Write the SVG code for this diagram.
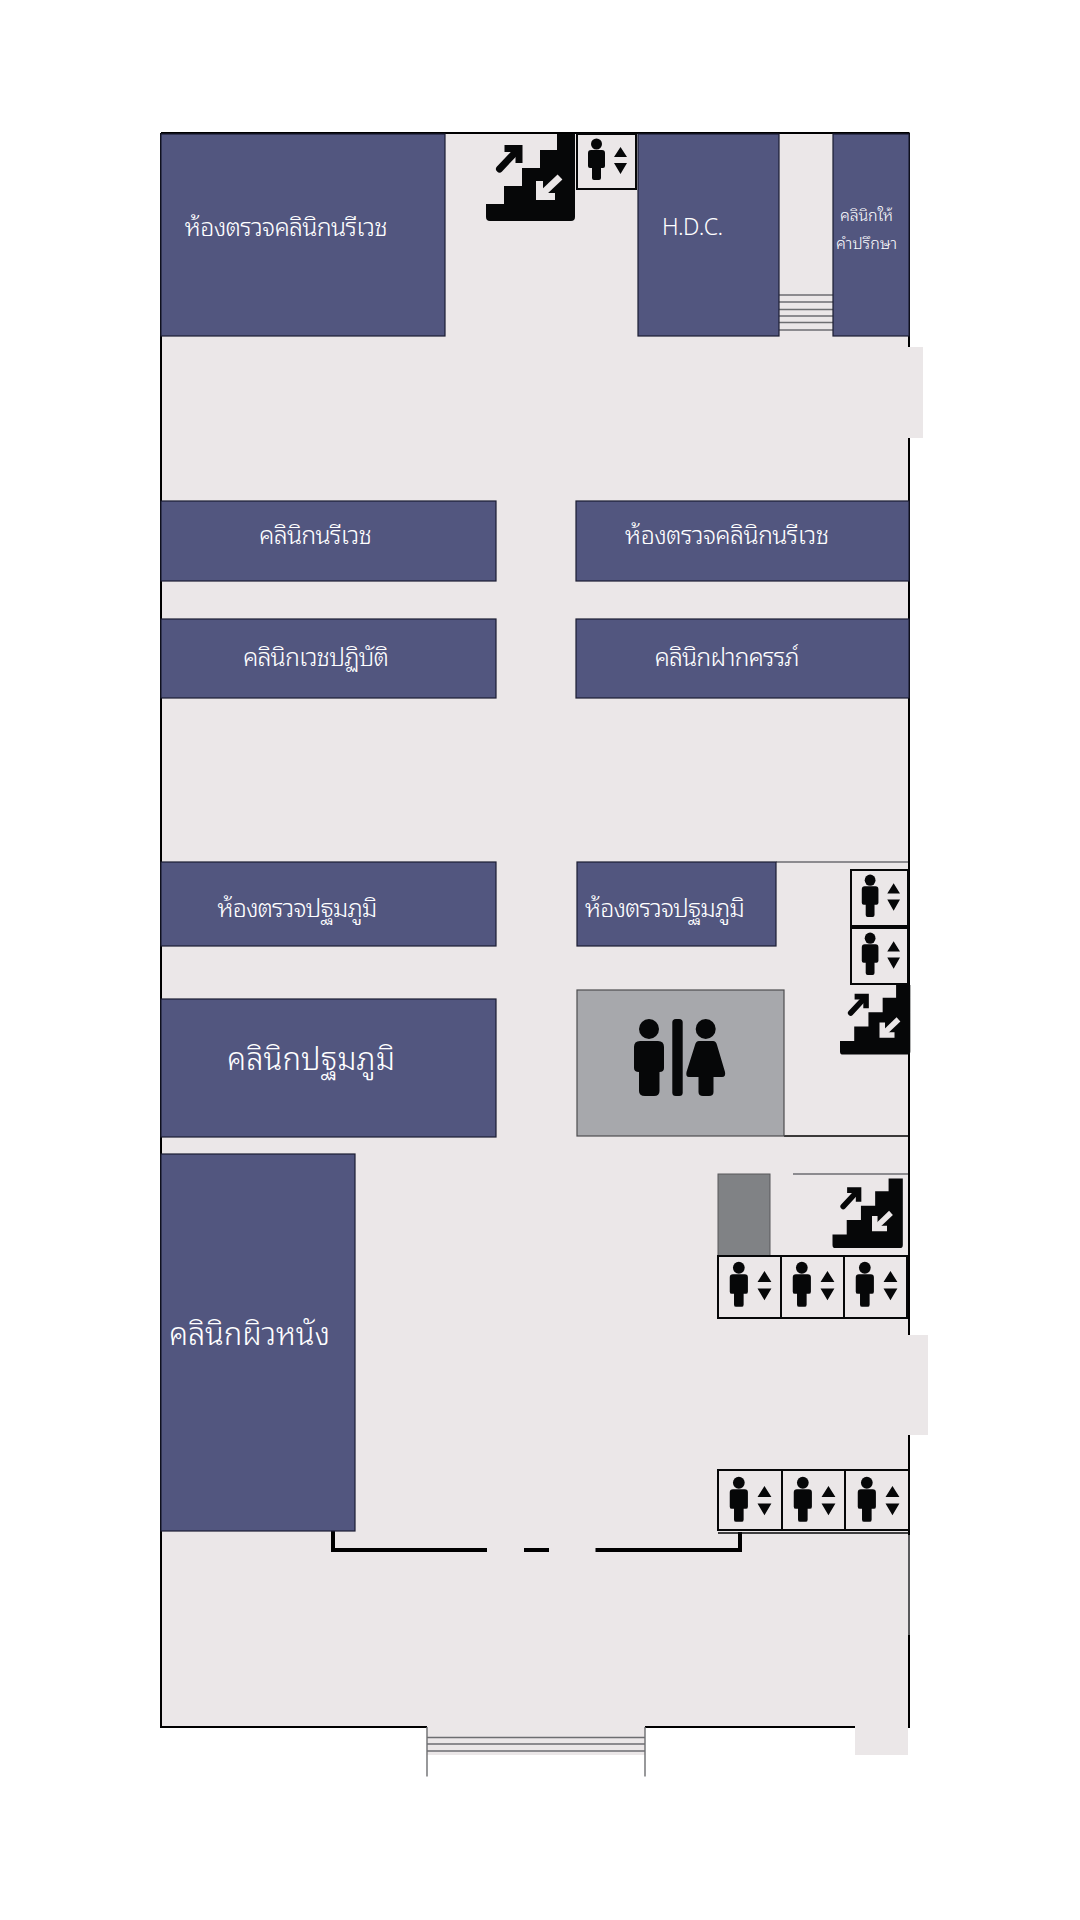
<svg xmlns="http://www.w3.org/2000/svg" width="1080" height="1920" viewBox="0 0 1080 1920" lang="th">
<style>
.room{fill:#52567f;stroke:#1c1d33;stroke-width:1.2}
.floor{fill:#ebe7e8}
.wall{stroke:#000;stroke-width:2;fill:none}
.thin{stroke:#6d6e71;stroke-width:1.4;fill:none}
.ink{fill:#060708}
.t{fill:#fff;font-family:"Noto Sans Thai Looped","Noto Looped Thai","Loma","Garuda","Norasi","Waree","Tahoma","Noto Sans","Liberation Sans",sans-serif;font-weight:300}
.box{fill:#ebe7e8;stroke:#060708;stroke-width:2}
</style>
<defs>
<g id="person">
<circle class="ink" cx="19.5" cy="10" r="5.5"/>
<path class="ink" d="M14 16H25Q28 16 28 19V32Q28 34 26 34H24V44Q24 46 22 46H17Q15 46 15 44V34H13Q11 34 11 32V19Q11 16 14 16Z"/>
<path class="ink" d="M37 23H50L43.500 13ZM37 29H50L43.500 40Z"/>
</g>
<g id="stairs">
<path class="ink" d="M0 70H18V52H36V34H54V16H71V0H89V83Q89 87 85 87H4Q0 87 0 83Z"/>
<path d="M13.500 35 31 16.500" fill="none" stroke="#060708" stroke-width="7" stroke-linecap="round"/>
<path d="M18.500 14.500H33V29" fill="none" stroke="#060708" stroke-width="7"/>
<path d="M74 43 56 60" fill="none" stroke="#ebe7e8" stroke-width="7"/>
<path d="M53.500 47V62.500H69" fill="none" stroke="#ebe7e8" stroke-width="7"/>
</g>
</defs>
<rect width="1080" height="1920" fill="#fff"/>
<g id="floor">
<rect class="floor" x="161" y="134" width="748" height="1593"/>
<rect class="floor" x="908" y="347" width="15" height="91"/>
<rect class="floor" x="908" y="1335" width="20" height="100"/>
<rect class="floor" x="427" y="1726" width="218" height="29"/>
<rect class="floor" x="855" y="1726" width="53" height="29"/>
</g>
<g id="walls">
<path class="wall" d="M161 133H909.500M161 133V1727H427M645 1727H855"/>
<path class="wall" d="M909 133V347M909 438V1335M909 1435V1535M909 1635V1728"/>
<path d="M909 1535V1635" stroke="#58595b" stroke-width="2"/>
<path class="thin" d="M427 1727V1776.500M645 1727V1776.500M427 1737.500H645M427 1744H645M427 1751H645"/>
<path class="thin" d="M779 295H833M779 302H833M779 309.500H833M779 316H833M779 322.500H833M779 330H833"/>
<path class="thin" d="M776 862H908M793 1174H908"/>
<path d="M784 1136H908" stroke="#000" stroke-width="1.500"/>
<path d="M333 1531V1552M331 1550H487M524 1550H549M595.500 1550H742M740 1532V1552" stroke="#000" stroke-width="4" fill="none"/>
</g>
<g id="room-1"><rect class="room" x="161" y="134" width="284" height="202"/><text class="t" x="184" y="236" font-size="25" textLength="203">ห้องตรวจคลินิกนรีเวช</text></g>
<g id="room-hdc"><rect class="room" x="638" y="134" width="141" height="202"/><text class="t" x="662" y="235" font-size="23" textLength="61">H.D.C.</text></g>
<g id="room-consult"><rect class="room" x="833" y="134" width="76" height="202"/><text class="t" x="840" y="221" font-size="16" textLength="53">คลินิกให้</text><text class="t" x="836" y="249" font-size="16" textLength="61">คำปรึกษา</text></g>
<g id="room-2"><rect class="room" x="161" y="501" width="335" height="80"/><text class="t" x="259" y="544" font-size="25" textLength="113">คลินิกนรีเวช</text></g>
<g id="room-3"><rect class="room" x="576" y="501" width="333" height="80"/><text class="t" x="624.500" y="544" font-size="25" textLength="204">ห้องตรวจคลินิกนรีเวช</text></g>
<g id="room-4"><rect class="room" x="161" y="619" width="335" height="79"/><text class="t" x="243" y="666" font-size="25" textLength="146">คลินิกเวชปฏิบัติ</text></g>
<g id="room-5"><rect class="room" x="576" y="619" width="333" height="79"/><text class="t" x="654.500" y="666" font-size="25" textLength="145">คลินิกฝากครรภ์</text></g>
<g id="room-6"><rect class="room" x="161" y="862" width="335" height="84"/><text class="t" x="216.500" y="917" font-size="25" textLength="160">ห้องตรวจปฐมภูมิ</text></g>
<g id="room-7"><rect class="room" x="577" y="862" width="199" height="84"/><text class="t" x="584" y="917" font-size="25" textLength="160">ห้องตรวจปฐมภูมิ</text></g>
<g id="room-8"><rect class="room" x="161" y="999" width="335" height="138"/><text class="t" x="227" y="1070" font-size="31" textLength="168">คลินิกปฐมภูมิ</text></g>
<g id="room-9"><rect class="room" x="161" y="1154" width="194" height="377"/><text class="t" x="169" y="1345" font-size="31" textLength="161">คลินิกผิวหนัง</text></g>
<g id="toilet">
<rect x="577" y="990" width="207" height="146" fill="#a7a8ac" stroke="#4d4d4f" stroke-width="1.200"/>
<circle class="ink" cx="649" cy="1029" r="10"/>
<path class="ink" d="M640 1041H658Q664 1041 664 1047V1068Q664 1072 659.500 1072V1091Q659.500 1096 654 1096H645Q639 1096 639 1091V1072Q634 1072 634 1068V1047Q634 1041 640 1041Z"/>
<rect class="ink" x="672.300" y="1019" width="10.400" height="77" rx="3.500"/>
<circle class="ink" cx="705.700" cy="1029" r="10"/>
<path class="ink" d="M699 1041H713Q716 1041 717 1045L725 1072Q726 1077 722 1077H713.500V1092Q713.500 1096 709 1096H703Q698.500 1096 698.500 1092V1077H689Q685.500 1077 686.500 1072L695 1045Q696 1041 699 1041Z"/>
</g>
<g id="stairs-1"><use href="#stairs" x="486" y="134"/></g>
<g id="lift-1"><rect class="box" x="577" y="134" width="59" height="55"/><use href="#person" x="577" y="134"/></g>
<g id="lift-2"><rect class="box" x="851" y="870" width="57" height="56"/><use href="#person" transform="translate(851 870) scale(.98 1.020)"/></g>
<g id="lift-3"><rect class="box" x="851" y="928" width="57" height="56"/><use href="#person" transform="translate(851 928) scale(.98 1.020)"/></g>
<g id="stairs-2"><use href="#stairs" transform="translate(840 985) scale(.79 .8)"/></g>
<g id="grey-block"><rect x="718" y="1174" width="52" height="82" fill="#808285" stroke="#58595b" stroke-width="1"/></g>
<g id="stairs-3"><use href="#stairs" transform="translate(832.500 1178.500) scale(.79 .8)"/></g>
<g id="lift-4"><rect class="box" x="718" y="1256" width="63" height="62"/><use href="#person" transform="translate(718 1257) scale(1.068 1.083)"/></g>
<g id="lift-5"><rect class="box" x="781" y="1256" width="63" height="62"/><use href="#person" transform="translate(781 1257) scale(1.068 1.083)"/></g>
<g id="lift-6"><rect class="box" x="844" y="1256" width="63" height="62"/><use href="#person" transform="translate(844 1257) scale(1.068 1.083)"/></g>
<g id="lift-7"><rect class="box" x="718" y="1470" width="64" height="60"/><use href="#person" transform="translate(718 1472) scale(1.068 1.083)"/></g>
<g id="lift-8"><rect class="box" x="782" y="1470" width="63" height="60"/><use href="#person" transform="translate(782 1472) scale(1.068 1.083)"/></g>
<g id="lift-9"><rect class="box" x="845" y="1470" width="64" height="60"/><use href="#person" transform="translate(846 1472) scale(1.068 1.083)"/></g>
<path id="lift-sill" d="M718 1533H909" stroke="#060708" stroke-width="1.500"/>
</svg>
